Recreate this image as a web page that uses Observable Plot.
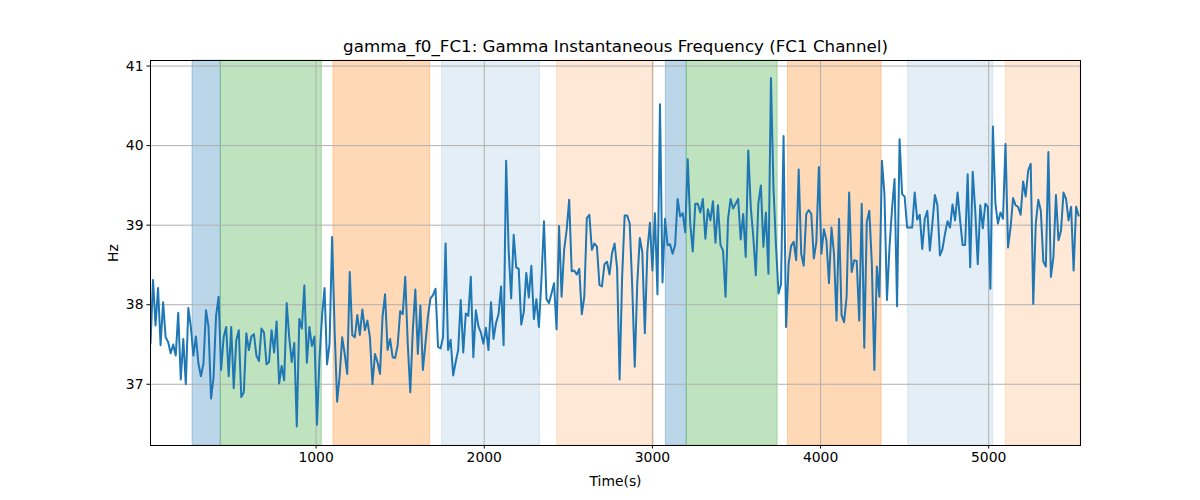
<!DOCTYPE html>
<html>
<head>
<meta charset="utf-8">
<script src="https://cdn.jsdelivr.net/npm/d3@7"></script>
<script src="https://cdn.jsdelivr.net/npm/@observablehq/plot@0.6"></script>
<style>
  html, body { margin: 0; padding: 0; background: #fff; }
</style>
</head>
<body>
<div id="chart"></div>
<script>
// Sample period (s) and first sample time
const sampleStart = 15;
const samplePeriod = 15;

// Instantaneous frequency values (Hz)
const freqValues = [
  37.51, 38.31, 37.74, 38.21, 37.49, 38.03, 37.59, 37.53, 37.39, 37.5, 37.36, 37.9, 37.06, 37.57, 37.0, 37.96, 37.72, 37.36, 37.6, 37.26,
  37.1, 37.26, 37.93, 37.72, 36.82, 37.09, 37.86, 38.1, 37.18, 37.59, 37.72, 37.1, 37.72, 36.95, 37.55, 37.68, 36.84, 36.9, 37.64, 37.43,
  37.6, 37.63, 37.36, 37.29, 37.7, 37.65, 37.25, 37.28, 37.68, 37.4, 37.79, 37.01, 37.23, 37.05, 38.02, 37.59, 37.28, 37.52, 36.47,
  37.82, 37.7, 38.24, 37.27, 37.72, 37.48, 37.6, 36.49, 37.32, 37.85, 38.21, 37.25, 37.51, 38.85, 37.68, 36.78, 37.11, 37.59, 37.38, 37.13,
  38.41, 37.62, 37.59, 37.87, 37.62, 37.94, 37.68, 37.8, 37.59, 37.0, 37.38, 37.28, 37.13, 37.85, 38.13, 37.43, 37.57, 37.34, 37.33, 37.49,
  37.92, 37.88, 38.35, 37.51, 36.9, 37.68, 38.19, 37.38, 37.99, 37.18, 37.51, 37.85, 38.08, 38.12, 38.2, 37.47, 37.45, 37.59, 38.77, 37.43,
  37.56, 37.11, 37.28, 37.43,
  38.06, 37.4, 37.89, 37.86, 38.35, 37.34, 37.93, 37.73, 37.65, 37.51, 37.71, 37.43, 38.03, 37.57, 37.77, 37.88, 38.23, 37.49, 39.81, 38.69,
  38.08, 38.88, 38.47, 38.45, 37.75, 37.91, 38.4, 38.09, 38.49, 37.82, 38.07, 37.72, 38.31, 39.05, 38.07, 38.02, 38.14, 38.27, 37.69, 38.99,
  38.1, 38.69, 38.94, 39.32, 38.42, 38.43, 38.38, 38.45, 37.88, 38.1, 39.09, 39.13, 38.69, 38.77, 38.73, 38.25, 38.23, 38.51, 38.54, 38.38,
  38.65, 38.77,
  38.46, 37.06, 38.35, 39.12, 39.12, 39.02, 38.23, 37.22, 38.27, 38.84, 38.66, 37.64, 38.68, 39.03, 38.43, 39.15, 38.13, 40.52, 38.28, 39.08,
  38.75, 38.76, 38.64, 38.75, 39.33, 39.11, 39.15, 38.91, 39.83, 39.02, 38.67, 39.27, 39.27, 39.16, 39.33, 38.83, 39.2, 39.06, 39.3, 38.78,
  39.25, 38.75, 38.68, 38.1, 39.08, 39.33, 39.21, 39.27, 39.33, 38.82, 39.14, 38.6, 39.94, 39.23, 38.85, 38.37, 39.27, 39.5, 38.73, 39.16,
  38.39,
  40.85, 39.47, 38.74, 38.14, 38.26, 40.12, 37.72, 38.51, 38.74, 38.79, 38.56, 39.7, 38.64, 38.49, 39.14, 39.19, 39.14, 38.58, 38.79, 39.73,
  38.64, 38.95, 38.81, 38.27, 38.97, 38.64, 37.8, 39.08, 37.87, 37.78, 38.1, 39.41, 38.41, 38.56, 38.55, 37.8, 39.27, 37.46, 39.04, 39.18,
  38.52, 37.18, 38.48, 38.1, 39.81, 39.39, 38.06, 38.72, 39.2, 39.58, 37.98, 40.08, 39.39, 39.36, 38.97, 38.97, 38.97, 39.41, 39.07, 39.13,
  38.7,
  39.08, 39.18, 38.68, 39.02, 39.38, 39.25, 38.62, 38.7, 38.89, 39.05, 38.97, 39.26, 39.06, 39.41, 39.06, 38.75, 38.75, 39.64, 38.47, 39.67,
  39.18, 38.51, 39.25, 38.96, 39.27, 39.23, 38.2, 40.24, 39.27, 39.02, 39.16, 39.08, 40.02, 38.72, 38.97, 39.34, 39.25, 39.23, 39.13, 39.55,
  39.36, 39.69, 39.77, 38.01, 39.02, 39.32, 39.18, 38.54, 38.48, 39.92, 38.35, 38.6, 39.38, 38.81, 38.93, 39.41, 39.33, 39.06, 39.23, 38.43,
  39.23, 39.12
];

// Shaded intervals (s)
const spanStart = [265, 433, 1103, 1749, 2433, 3080, 3204, 3806, 4521, 5102];
const spanEnd   = [433, 1034, 1678, 2332, 3010, 3204, 3745, 4363, 5027, 5546];
const spanKind  = ["blue", "green", "orange", "lightblue", "lightorange", "blue", "green", "orange", "lightblue", "lightorange"];

const xTicks = [1000, 2000, 3000, 4000, 5000];
const yTicks = [37, 38, 39, 40, 41];

const titleText = "gamma_f0_FC1: Gamma Instantaneous Frequency (FC1 Channel)";
const xLabel = "Time(s)";
const yLabel = "Hz";

// Styling per span kind
const kindColor = {blue: "#1f77b4", green: "#2ca02c", orange: "#ff7f0e", lightblue: "#1f77b4", lightorange: "#ff7f0e"};
const kindOpacity = {blue: 0.3, green: 0.3, orange: 0.3, lightblue: 0.12, lightorange: 0.17};

const series = freqValues.map((v, i) => ({t: sampleStart + i * samplePeriod, hz: v}));
const spans = spanStart.map((s, i) => ({x1: s, x2: spanEnd[i], kind: spanKind[i]}));

const chart = Plot.plot({
  width: 1200,
  height: 500,
  marginLeft: 150,
  marginRight: 120,
  marginTop: 60,
  marginBottom: 55,
  style: {fontFamily: "DejaVu Sans", fontSize: "13.9px", color: "black", background: "white", overflow: "visible"},
  x: {domain: [15, 5546], ticks: xTicks, tickFormat: d => String(d), label: xLabel, labelAnchor: "center", labelOffset: 40, tickSize: 3.5, tickPadding: 3.5, labelArrow: "none"},
  y: {domain: [36.23, 41.07], ticks: yTicks, tickFormat: d => String(d), label: yLabel, labelAnchor: "center", labelOffset: 42, tickSize: 3.5, tickPadding: 3.5, labelArrow: "none"},
  marks: [
    ...spans.map(s => Plot.rect([s], {
      x1: "x1", x2: "x2",
      fill: kindColor[s.kind], fillOpacity: kindOpacity[s.kind],
      stroke: kindColor[s.kind], strokeOpacity: kindOpacity[s.kind], strokeWidth: 1
    })),
    Plot.gridX(xTicks, {stroke: "#b0b0b0", strokeOpacity: 1, strokeWidth: 1}),
    Plot.gridY(yTicks, {stroke: "#b0b0b0", strokeOpacity: 1, strokeWidth: 1}),
    Plot.line(series, {x: "t", y: "hz", stroke: "#1f77b4", strokeWidth: 2, clip: true}),
    Plot.frame({stroke: "black", strokeWidth: 1}),
    Plot.text([titleText], {frameAnchor: "top", dy: -20, text: d => d, fontSize: 16.7, fill: "black"})
  ]
});

document.getElementById("chart").appendChild(chart);
</script>
</body>
</html>
